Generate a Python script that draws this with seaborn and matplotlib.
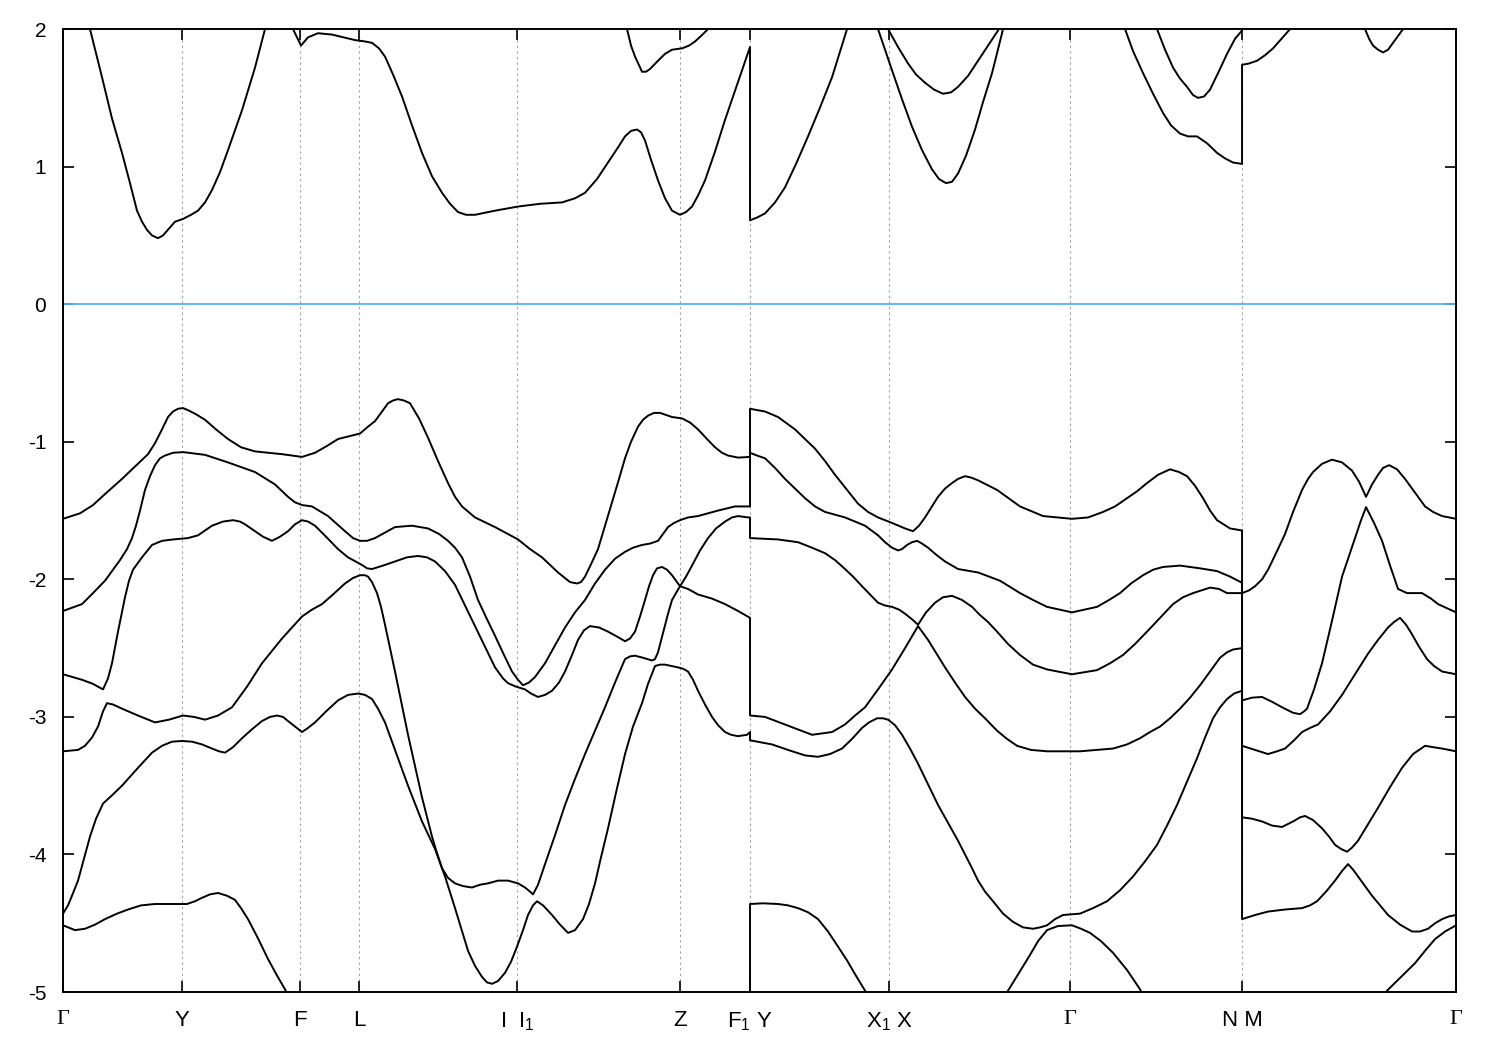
import pandas as pd
import seaborn as sns
import matplotlib.pyplot as plt

# high-symmetry points along the k-path (path length, arbitrary units)
kpath_pos = [0, 119, 237, 296, 454, 617, 687, 826, 1007, 1179, 1393]
kpath_labels = ["Γ", "Y", "F", "L", "I  I$_1$", "Z", "F$_1$ Y", "X$_1$ X", "Γ", "N M", "Γ"]
energy_ticks = [-5, -4, -3, -2, -1, 0, 1, 2]

# bands as (k, E [eV]); points outside the window are just there so the clipped line leaves the frame
band_c1 = [(0, 2.45), (15, 2.3), (27, 2.0), (39, 1.65), (49, 1.35), (59, 1.10), (67, 0.88), (74, 0.68),
           (79, 0.60), (84, 0.54), (89, 0.50), (95, 0.48), (100, 0.50), (106, 0.55), (112, 0.60),
           (120, 0.62), (128, 0.65), (135, 0.68), (142, 0.74), (149, 0.83), (157, 0.96), (165, 1.12),
           (179, 1.41), (192, 1.72), (202, 2.0), (217, 2.3), (230, 2.0), (238, 1.88), (245, 1.94),
           (255, 1.97), (269, 1.96), (292, 1.92), (302, 1.91), (309, 1.90), (316, 1.86), (322, 1.80),
           (330, 1.67), (339, 1.51), (349, 1.30), (359, 1.10), (369, 0.93), (379, 0.81), (387, 0.73),
           (395, 0.67), (403, 0.65), (412, 0.65), (432, 0.68), (455, 0.71), (477, 0.73), (499, 0.74),
           (512, 0.77), (522, 0.81), (534, 0.91), (545, 1.03), (555, 1.14), (562, 1.22), (568, 1.26),
           (574, 1.27), (578, 1.25), (582, 1.19), (588, 1.05), (595, 0.90), (602, 0.77), (609, 0.68),
           (617, 0.65), (623, 0.67), (629, 0.71), (635, 0.79), (642, 0.90), (652, 1.11), (662, 1.34),
           (671, 1.53), (679, 1.70), (687, 1.87), (687, 0.61), (694, 0.63), (702, 0.66), (712, 0.74),
           (722, 0.85), (733, 1.02), (745, 1.22), (757, 1.43), (769, 1.65), (784, 2.0), (800, 2.3),
           (815, 2.0), (829, 1.70), (839, 1.49), (849, 1.29), (859, 1.12), (869, 0.98), (876, 0.91),
           (883, 0.88), (889, 0.89), (895, 0.95), (903, 1.08), (912, 1.27), (920, 1.47), (929, 1.68),
           (939, 1.97), (950, 2.3), (1000, 2.9), (1050, 2.4), (1062, 2.0), (1070, 1.84), (1080, 1.68),
           (1090, 1.53), (1100, 1.39), (1108, 1.30), (1117, 1.24), (1125, 1.22), (1134, 1.22),
           (1144, 1.17), (1154, 1.10), (1162, 1.06), (1170, 1.03), (1179, 1.02), (1179, 1.74),
           (1186, 1.75), (1194, 1.77), (1202, 1.81), (1210, 1.86), (1227, 2.0), (1265, 2.3),
           (1302, 2.0), (1306, 1.93), (1310, 1.88), (1315, 1.85), (1320, 1.83), (1325, 1.85),
           (1330, 1.90), (1340, 2.0), (1370, 2.4), (1393, 2.5)]
band_c2 = [(530, 2.6), (564, 2.0), (568, 1.88), (572, 1.80), (579, 1.69), (583, 1.69), (587, 1.71),
           (595, 1.77), (602, 1.82), (609, 1.85), (619, 1.86), (626, 1.88), (632, 1.91), (638, 1.95),
           (645, 2.0), (660, 2.3), (687, 2.7), (800, 2.6), (812, 2.3), (825, 2.0), (835, 1.87),
           (845, 1.75), (853, 1.67), (862, 1.61), (871, 1.56), (880, 1.53), (888, 1.54), (895, 1.58),
           (905, 1.66), (915, 1.77), (925, 1.88), (935, 1.99), (945, 2.2), (1000, 2.8), (1082, 2.3),
           (1094, 2.0), (1102, 1.85), (1110, 1.72), (1117, 1.64), (1124, 1.58), (1130, 1.52),
           (1135, 1.50), (1141, 1.51), (1147, 1.56), (1155, 1.68), (1164, 1.82), (1172, 1.93),
           (1179, 1.99), (1179, 2.4), (1393, 2.8)]

band_v1 = [(0, -1.56), (17, -1.52), (30, -1.46), (42, -1.38), (59, -1.27), (72, -1.18), (85, -1.09),
           (92, -1.01), (99, -0.91), (105, -0.82), (110, -0.78), (115, -0.76), (120, -0.755),
           (125, -0.77), (133, -0.80), (142, -0.84), (153, -0.91), (165, -0.98), (178, -1.04),
           (192, -1.07), (219, -1.09), (239, -1.11), (252, -1.08), (264, -1.03), (275, -0.98),
           (297, -0.94), (305, -0.89), (312, -0.85), (319, -0.78), (325, -0.72), (330, -0.70),
           (335, -0.69), (341, -0.70), (347, -0.72), (356, -0.83), (365, -0.97), (375, -1.14),
           (385, -1.30), (392, -1.40), (399, -1.47), (412, -1.55), (432, -1.62), (455, -1.71),
           (467, -1.78), (479, -1.84), (495, -1.95), (507, -2.02), (514, -2.03), (518, -2.02),
           (522, -1.98), (528, -1.89), (535, -1.78), (542, -1.61), (549, -1.44), (556, -1.27),
           (562, -1.12), (568, -1.00), (575, -0.89), (580, -0.84), (585, -0.81), (591, -0.79),
           (597, -0.79), (609, -0.82), (619, -0.83), (627, -0.86), (635, -0.91), (644, -0.98),
           (652, -1.04), (659, -1.08), (665, -1.10), (675, -1.115), (687, -1.11), (687, -0.76),
           (702, -0.78), (715, -0.82), (732, -0.91), (742, -0.98), (752, -1.05), (762, -1.14),
           (772, -1.24), (784, -1.35), (795, -1.45), (805, -1.51), (815, -1.55), (829, -1.59),
           (842, -1.63), (850, -1.65), (856, -1.61), (862, -1.55), (869, -1.47), (875, -1.40),
           (882, -1.34), (889, -1.30), (895, -1.27), (902, -1.25), (908, -1.26), (915, -1.28),
           (934, -1.35), (957, -1.47), (980, -1.54), (1009, -1.56), (1025, -1.55), (1040, -1.51),
           (1052, -1.47), (1064, -1.41), (1074, -1.36), (1084, -1.30), (1095, -1.24), (1107, -1.20),
           (1116, -1.22), (1124, -1.25), (1132, -1.32), (1140, -1.41), (1147, -1.50), (1154, -1.57),
           (1167, -1.63), (1179, -1.645), (1179, -2.10), (1186, -2.08), (1192, -2.05), (1199, -2.00),
           (1205, -1.93), (1213, -1.81), (1222, -1.67), (1230, -1.51), (1239, -1.35), (1245, -1.27),
           (1250, -1.22), (1259, -1.16), (1269, -1.13), (1279, -1.15), (1289, -1.21), (1296, -1.29),
           (1303, -1.40), (1309, -1.31), (1315, -1.24), (1320, -1.19), (1326, -1.17), (1334, -1.20),
           (1342, -1.27), (1352, -1.37), (1362, -1.47), (1370, -1.51), (1379, -1.54), (1393, -1.56)]
band_v2 = [(0, -2.23), (19, -2.18), (30, -2.10), (42, -2.01), (57, -1.86), (64, -1.78), (69, -1.70),
           (73, -1.61), (77, -1.50), (82, -1.35), (87, -1.25), (92, -1.17), (97, -1.12), (102, -1.10),
           (110, -1.08), (120, -1.075), (142, -1.095), (165, -1.15), (192, -1.22), (212, -1.31),
           (225, -1.40), (232, -1.44), (239, -1.46), (249, -1.47), (265, -1.54), (282, -1.65),
           (290, -1.70), (297, -1.72), (304, -1.72), (312, -1.70), (322, -1.66), (332, -1.62),
           (349, -1.61), (365, -1.63), (376, -1.67), (385, -1.72), (392, -1.77), (399, -1.84),
           (407, -1.98), (415, -2.15), (424, -2.29), (432, -2.41), (441, -2.55), (449, -2.67),
           (455, -2.73), (460, -2.77), (466, -2.75), (472, -2.71), (482, -2.61), (492, -2.48),
           (502, -2.35), (512, -2.24), (522, -2.15), (532, -2.03), (542, -1.93), (552, -1.85),
           (562, -1.80), (570, -1.77), (579, -1.75), (587, -1.74), (595, -1.72), (600, -1.67),
           (605, -1.62), (611, -1.59), (617, -1.57), (625, -1.55), (635, -1.54), (645, -1.52),
           (655, -1.50), (672, -1.47), (687, -1.47), (687, -1.08), (694, -1.10), (702, -1.12),
           (712, -1.19), (722, -1.27), (732, -1.34), (742, -1.41), (752, -1.47), (762, -1.51),
           (782, -1.55), (802, -1.61), (815, -1.68), (822, -1.73), (829, -1.77), (835, -1.79),
           (839, -1.78), (844, -1.75), (849, -1.73), (854, -1.72), (859, -1.74), (865, -1.77),
           (873, -1.82), (882, -1.87), (895, -1.925), (915, -1.95), (937, -2.01), (957, -2.10),
           (970, -2.15), (984, -2.20), (1009, -2.24), (1034, -2.20), (1046, -2.15), (1057, -2.10),
           (1068, -2.03), (1080, -1.97), (1090, -1.93), (1100, -1.91), (1117, -1.90), (1137, -1.92),
           (1154, -1.94), (1167, -1.98), (1179, -2.025), (1179, -2.88), (1189, -2.86), (1199, -2.855),
           (1209, -2.89), (1219, -2.93), (1230, -2.97), (1237, -2.98), (1241, -2.96), (1244, -2.94),
           (1251, -2.80), (1259, -2.61), (1269, -2.30), (1279, -1.98), (1291, -1.72), (1298, -1.57),
           (1303, -1.475), (1311, -1.59), (1319, -1.72), (1327, -1.90), (1335, -2.07), (1344, -2.10),
           (1359, -2.10), (1368, -2.14), (1375, -2.18), (1384, -2.21), (1393, -2.24)]
band_v3 = [(0, -2.69), (19, -2.73), (30, -2.76), (40, -2.80), (45, -2.72), (49, -2.61), (55, -2.38),
           (62, -2.13), (66, -2.01), (70, -1.93), (79, -1.84), (89, -1.75), (99, -1.72), (110, -1.71),
           (125, -1.70), (135, -1.68), (149, -1.61), (160, -1.58), (170, -1.57), (177, -1.58),
           (182, -1.60), (192, -1.65), (200, -1.69), (209, -1.72), (217, -1.69), (225, -1.65),
           (232, -1.60), (239, -1.57), (245, -1.58), (252, -1.61), (263, -1.69), (275, -1.78),
           (285, -1.84), (295, -1.88), (300, -1.90), (304, -1.92), (309, -1.925), (320, -1.90),
           (332, -1.87), (344, -1.84), (355, -1.83), (364, -1.84), (372, -1.87), (382, -1.94),
           (392, -2.04), (402, -2.19), (412, -2.34), (422, -2.49), (432, -2.64), (440, -2.72),
           (445, -2.755), (453, -2.78), (462, -2.80), (468, -2.83), (475, -2.855), (482, -2.84),
           (489, -2.81), (496, -2.75), (502, -2.67), (509, -2.55), (515, -2.44), (521, -2.37),
           (527, -2.34), (536, -2.35), (545, -2.38), (555, -2.42), (562, -2.45), (567, -2.43),
           (572, -2.38), (577, -2.27), (582, -2.15), (586, -2.05), (590, -1.97), (594, -1.92),
           (599, -1.91), (604, -1.93), (609, -1.97), (613, -2.01), (617, -2.05), (623, -1.98),
           (629, -1.90), (637, -1.79), (645, -1.70), (653, -1.63), (662, -1.58), (669, -1.55),
           (675, -1.54), (685, -1.55), (687, -1.55), (687, -1.70), (715, -1.71), (735, -1.73),
           (749, -1.77), (762, -1.81), (772, -1.86), (782, -1.925), (790, -1.98), (799, -2.05),
           (807, -2.11), (815, -2.17), (822, -2.19), (829, -2.20), (836, -2.22), (842, -2.25),
           (849, -2.29), (855, -2.33), (863, -2.24), (872, -2.17), (880, -2.13), (889, -2.12),
           (899, -2.15), (909, -2.20), (917, -2.26), (925, -2.31), (934, -2.38), (945, -2.47),
           (957, -2.55), (970, -2.62), (984, -2.655), (1009, -2.69), (1034, -2.66), (1047, -2.61),
           (1060, -2.55), (1072, -2.47), (1084, -2.38), (1097, -2.28), (1110, -2.18), (1120, -2.13),
           (1130, -2.10), (1147, -2.06), (1156, -2.07), (1164, -2.10), (1179, -2.10), (1179, -3.21),
           (1192, -3.24), (1205, -3.27), (1214, -3.25), (1222, -3.23), (1231, -3.17), (1239, -3.11),
           (1247, -3.08), (1255, -3.055), (1267, -2.96), (1279, -2.84), (1292, -2.69), (1305, -2.54),
           (1315, -2.44), (1325, -2.35), (1331, -2.31), (1337, -2.28), (1343, -2.33), (1349, -2.40),
           (1356, -2.49), (1364, -2.58), (1371, -2.63), (1379, -2.67), (1393, -2.69)]
band_v4 = [(0, -3.25), (15, -3.24), (22, -3.21), (29, -3.15), (35, -3.07), (40, -2.96), (44, -2.90),
           (50, -2.91), (59, -2.94), (75, -2.99), (92, -3.04), (106, -3.02), (120, -2.99),
           (131, -3.00), (142, -3.02), (155, -2.99), (169, -2.93), (184, -2.78), (199, -2.61),
           (219, -2.43), (239, -2.27), (249, -2.22), (259, -2.18), (270, -2.11), (282, -2.03),
           (290, -1.99), (297, -1.97), (302, -1.97), (305, -1.98), (309, -2.02), (314, -2.10),
           (318, -2.20), (322, -2.33), (332, -2.67), (345, -3.13), (359, -3.585), (369, -3.87),
           (374, -3.99), (379, -4.10), (385, -4.17), (392, -4.21), (400, -4.23), (409, -4.24),
           (417, -4.22), (425, -4.21), (435, -4.19), (445, -4.19), (455, -4.21), (462, -4.24),
           (467, -4.27), (470, -4.29), (475, -4.22), (482, -4.07), (492, -3.86), (502, -3.64),
           (512, -3.45), (522, -3.27), (532, -3.10), (542, -2.93), (552, -2.75), (562, -2.58),
           (567, -2.56), (572, -2.555), (580, -2.57), (589, -2.59), (592, -2.58), (595, -2.53),
           (600, -2.39), (605, -2.25), (609, -2.15), (617, -2.05), (625, -2.07), (635, -2.11),
           (649, -2.14), (662, -2.18), (675, -2.23), (687, -2.28), (687, -2.99), (702, -3.00),
           (722, -3.055), (735, -3.09), (749, -3.13), (759, -3.12), (769, -3.11), (782, -3.055),
           (792, -2.99), (802, -2.93), (815, -2.80), (829, -2.655), (842, -2.50), (855, -2.34),
           (865, -2.44), (882, -2.64), (892, -2.75), (902, -2.855), (912, -2.94), (922, -3.01),
           (934, -3.10), (944, -3.16), (954, -3.21), (968, -3.24), (984, -3.25), (1017, -3.25),
           (1050, -3.23), (1064, -3.20), (1077, -3.155), (1087, -3.11), (1097, -3.07), (1107, -3.01),
           (1117, -2.94), (1127, -2.86), (1137, -2.77), (1147, -2.67), (1157, -2.57), (1164, -2.53),
           (1170, -2.51), (1179, -2.50), (1179, -3.73), (1189, -3.74), (1199, -3.76), (1209, -3.79),
           (1219, -3.80), (1230, -3.76), (1237, -3.73), (1242, -3.72), (1250, -3.75), (1259, -3.81),
           (1266, -3.87), (1272, -3.93), (1278, -3.96), (1284, -3.98), (1289, -3.95), (1295, -3.90),
           (1305, -3.78), (1315, -3.66), (1327, -3.51), (1339, -3.37), (1350, -3.27), (1362, -3.21),
           (1370, -3.22), (1379, -3.23), (1393, -3.25)]
band_v5 = [(0, -4.43), (5, -4.37), (9, -4.30), (15, -4.19), (21, -4.03), (27, -3.87), (33, -3.74),
           (40, -3.63), (49, -3.57), (59, -3.50), (75, -3.37), (89, -3.26), (99, -3.21), (109, -3.18),
           (119, -3.175), (129, -3.18), (139, -3.20), (149, -3.23), (156, -3.25), (162, -3.26),
           (170, -3.22), (179, -3.155), (189, -3.09), (199, -3.03), (207, -3.00), (214, -2.99),
           (220, -3.00), (225, -3.03), (232, -3.07), (239, -3.11), (245, -3.08), (252, -3.04),
           (263, -2.96), (275, -2.88), (285, -2.84), (295, -2.83), (302, -2.84), (309, -2.87),
           (315, -2.94), (322, -3.04), (332, -3.24), (345, -3.50), (359, -3.76), (372, -3.96),
           (382, -4.16), (392, -4.39), (405, -4.70), (412, -4.81), (419, -4.89), (424, -4.93),
           (429, -4.94), (435, -4.92), (442, -4.86), (448, -4.78), (454, -4.67), (460, -4.55),
           (465, -4.44), (470, -4.37), (474, -4.34), (480, -4.37), (489, -4.44), (497, -4.51),
           (505, -4.57), (512, -4.55), (520, -4.47), (526, -4.36), (532, -4.21), (538, -4.02),
           (545, -3.81), (553, -3.55), (562, -3.27), (570, -3.07), (579, -2.90), (585, -2.76),
           (592, -2.63), (597, -2.62), (602, -2.62), (615, -2.64), (620, -2.65), (625, -2.67),
           (630, -2.73), (635, -2.81), (642, -2.91), (649, -3.00), (655, -3.06), (662, -3.11),
           (668, -3.13), (675, -3.14), (684, -3.13), (687, -3.11), (687, -3.17), (709, -3.20),
           (725, -3.24), (742, -3.28), (755, -3.29), (767, -3.27), (779, -3.23), (789, -3.16),
           (799, -3.08), (806, -3.04), (814, -3.01), (820, -3.01), (825, -3.02), (832, -3.06),
           (839, -3.13), (847, -3.23), (855, -3.34), (865, -3.49), (875, -3.64), (885, -3.77),
           (895, -3.90), (902, -4.00), (909, -4.10), (915, -4.19), (922, -4.27), (930, -4.34),
           (940, -4.43), (950, -4.49), (960, -4.53), (970, -4.54), (977, -4.53), (984, -4.515),
           (992, -4.47), (1000, -4.44), (1009, -4.435), (1017, -4.43), (1030, -4.39), (1044, -4.34),
           (1057, -4.26), (1070, -4.16), (1082, -4.05), (1094, -3.93), (1104, -3.79), (1114, -3.64),
           (1124, -3.47), (1134, -3.30), (1142, -3.15), (1150, -3.01), (1157, -2.93), (1164, -2.87),
           (1171, -2.83), (1179, -2.81), (1179, -4.47), (1192, -4.44), (1205, -4.415), (1222, -4.40),
           (1239, -4.39), (1247, -4.37), (1254, -4.34), (1263, -4.27), (1272, -4.19), (1279, -4.12),
           (1285, -4.07), (1290, -4.11), (1295, -4.16), (1302, -4.23), (1309, -4.30), (1317, -4.37),
           (1325, -4.44), (1337, -4.51), (1349, -4.56), (1357, -4.56), (1365, -4.54), (1372, -4.50),
           (1379, -4.47), (1386, -4.45), (1393, -4.44)]
band_v6 = [(0, -4.515), (12, -4.55), (22, -4.54), (32, -4.51), (42, -4.47), (54, -4.43), (65, -4.40),
           (78, -4.37), (92, -4.36), (108, -4.36), (124, -4.36), (132, -4.34), (139, -4.315),
           (147, -4.29), (155, -4.28), (164, -4.30), (172, -4.33), (178, -4.39), (185, -4.47),
           (195, -4.61), (205, -4.76), (214, -4.88), (222, -4.98), (240, -5.3), (450, -6.2),
           (687, -5.8), (687, -4.36), (700, -4.355), (715, -4.36), (725, -4.37), (735, -4.39),
           (745, -4.42), (755, -4.47), (765, -4.56), (775, -4.67), (784, -4.77), (792, -4.87),
           (802, -4.99), (812, -5.13), (875, -5.7), (937, -5.10), (945, -4.99), (956, -4.86),
           (967, -4.73), (975, -4.63), (984, -4.55), (995, -4.52), (1009, -4.515), (1018, -4.54),
           (1027, -4.57), (1038, -4.63), (1050, -4.715), (1064, -4.84), (1077, -4.98), (1087, -5.13),
           (1130, -5.5), (1179, -5.8), (1250, -5.6), (1289, -5.27), (1307, -5.13), (1324, -4.99),
           (1338, -4.89), (1352, -4.79), (1362, -4.70), (1372, -4.615), (1382, -4.56), (1393, -4.515)]

bands = {"c1": band_c1, "c2": band_c2, "v1": band_v1, "v2": band_v2,
         "v3": band_v3, "v4": band_v4, "v5": band_v5, "v6": band_v6}
df = pd.concat([pd.DataFrame(pts, columns=["k", "E"]).assign(band=name) for name, pts in bands.items()],
               ignore_index=True)

sns.set_style("ticks")
plt.rcParams["font.family"] = ["Liberation Sans", "DejaVu Sans"]
plt.rcParams["mathtext.fontset"] = "custom"
plt.rcParams["mathtext.rm"] = "Liberation Sans"
plt.rcParams["mathtext.it"] = "Liberation Sans:italic"
plt.rcParams["axes.unicode_minus"] = False

fig = plt.figure(figsize=(15, 10.5), dpi=100)
ax = fig.add_axes([0.042, 0.0552, 0.9287, 0.9171])

for k in kpath_pos[1:-1]:
    ax.axvline(k, color="#a0a0a0", ls=(0, (2, 3)), lw=0.8, zorder=0)
ax.axhline(0, color="#56b4e9", lw=1.3, zorder=1)

sns.lineplot(data=df, x="k", y="E", units="band", estimator=None, sort=False,
             color="black", linewidth=1.4, ax=ax)

ax.set_xlim(kpath_pos[0], kpath_pos[-1])
ax.set_ylim(-5, 2)
ax.set_xticks(kpath_pos, kpath_labels)
ax.set_yticks(energy_ticks)
ax.set_xlabel("")
ax.set_ylabel("")
for lab in ax.get_xticklabels():
    if lab.get_text() == "Γ":
        lab.set_fontfamily("Liberation Serif")

for spine in ax.spines.values():
    spine.set_linewidth(1.4)
    spine.set_color("black")
ax.tick_params(direction="in", top=True, right=True, length=8, width=1.2,
               labelsize=14, colors="black")
ax.tick_params(axis="x", labelsize=16, pad=13)
ax.tick_params(axis="y", labelsize=15, pad=12)

fig.savefig("out.png", dpi=100)
